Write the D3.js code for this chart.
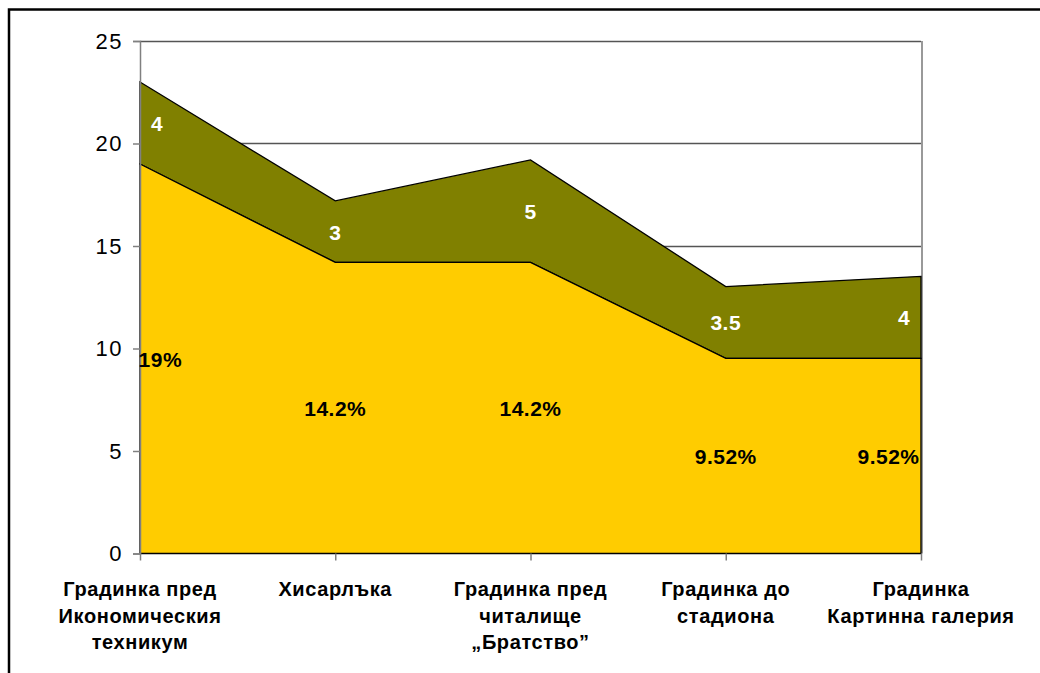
<!DOCTYPE html>
<html>
<head>
<meta charset="utf-8">
<script src="https://cdn.jsdelivr.net/npm/d3@7"></script>
<style>
  body { margin: 0; background: #fff; }
  svg { display: block; font-family: "Liberation Sans", Arial, sans-serif; }
</style>
</head>
<body>
<script>
// data
const categories = [
  ["Градинка пред", "Икономическия", "техникум"],
  ["Хисарлъка"],
  ["Градинка пред", "читалище", "„Братство”"],
  ["Градинка до", "стадиона"],
  ["Градинка", "Картинна галерия"]
]
const lowerValues = [19, 14.2, 14.2, 9.52, 9.52]
const lowerLabels = ["19%", "14.2%", "14.2%", "9.52%", "9.52%"]
const upperValues = [4, 3, 5, 3.5, 4]
const upperLabels = ["4", "3", "5", "3.5", "4"]
const yTicks = [0, 5, 10, 15, 20, 25]

const width = 1040
const height = 673
const margin = ({top: 41, right: 119, bottom: 119.5, left: 140})
const plotW = width - margin.left - margin.right
const plotH = height - margin.top - margin.bottom

const svg = d3.select("body").append("svg")
    .attr("width", width)
    .attr("height", height)

// outer frame (cropped at right/bottom)
svg.append("path")
    .attr("d", `M9,${height} V9.5 H${width}`)
    .attr("fill", "none")
    .attr("stroke", "#000")
    .attr("stroke-width", 2.5)

const idx = categories.map((d, i) => i)
const x = d3.scalePoint()
    .domain(idx)
    .range([0, plotW])

const y = d3.scaleLinear()
    .domain([0, 25])
    .range([plotH, 0])

const g = svg.append("g")
    .attr("transform", `translate(${margin.left},${margin.top})`)

// gridlines
g.append("g")
    .selectAll("line")
    .data(yTicks.filter(d => d > 0))
    .join("line")
    .attr("x1", 0)
    .attr("x2", plotW)
    .attr("y1", d => Math.round(y(d)) + 0.5)
    .attr("y2", d => Math.round(y(d)) + 0.5)
    .attr("stroke", "#555")
    .attr("stroke-width", 1.5)

// right border of plot area
g.append("line")
    .attr("x1", plotW + 1).attr("x2", plotW + 1)
    .attr("y1", 0).attr("y2", plotH)
    .attr("stroke", "#999")
    .attr("stroke-width", 2)

const stacked = idx.map(i => ({i, a: lowerValues[i], b: lowerValues[i] + upperValues[i]}))

const areaLower = d3.area()
    .x(d => x(d.i))
    .y0(y(0))
    .y1(d => y(d.a))

const areaUpper = d3.area()
    .x(d => x(d.i))
    .y0(d => y(d.a))
    .y1(d => y(d.b))

g.append("path")
    .datum(stacked)
    .attr("d", areaUpper)
    .attr("fill", "#808000")
    .attr("stroke", "#000")
    .attr("stroke-width", 1.3)

g.append("path")
    .datum(stacked)
    .attr("d", areaLower)
    .attr("fill", "#FFCC00")
    .attr("stroke", "#000")
    .attr("stroke-width", 1.3)

// y axis
const yAxis = g.append("g")
    .call(d3.axisLeft(y).tickValues(yTicks).tickSize(7).tickPadding(10))
yAxis.select(".domain").attr("stroke", "#808080").attr("stroke-width", 1.5)
yAxis.selectAll(".tick line").attr("stroke", "#808080").attr("stroke-width", 1.5)
yAxis.selectAll(".tick text")
    .attr("font-size", 22)
    .attr("letter-spacing", 1.5)
    .attr("fill", "#000")
    .attr("font-family", "Liberation Sans, Arial, sans-serif")

// x axis ticks
const xAxis = g.append("g")
    .attr("transform", `translate(0,${plotH})`)
    .call(d3.axisBottom(x).tickSize(7).tickFormat(""))
xAxis.select(".domain").remove()
xAxis.selectAll(".tick line").attr("stroke", "#808080").attr("stroke-width", 1.5)

// category labels
const cat = g.append("g")
    .selectAll("text")
    .data(idx)
    .join("text")
    .attr("x", d => x(d))
    .attr("y", plotH + 42.5)
    .attr("text-anchor", "middle")
    .attr("font-size", 20)
    .attr("letter-spacing", 0.6)
    .attr("font-weight", "bold")
    .attr("fill", "#000")
cat.selectAll("tspan")
    .data(d => categories[d])
    .join("tspan")
    .attr("x", function() { return d3.select(this.parentNode).attr("x") })
    .attr("dy", (d, i) => i === 0 ? 0 : 26.5)
    .text(d => d)

// data labels, clamped inside the plot
function labelX(i, w) {
  const cx = x(i)
  return Math.max(w / 2, Math.min(plotW - w / 2, cx))
}

g.append("g")
    .selectAll("text")
    .data(stacked)
    .join("text")
    .attr("x", d => labelX(d.i, lowerLabels[d.i].length * 12.2 + 4))
    .attr("y", d => y(d.a / 2))
    .attr("dy", "0.38em")
    .attr("text-anchor", "middle")
    .attr("font-size", 21)
    .attr("letter-spacing", 0.5)
    .attr("font-weight", "bold")
    .attr("fill", "#000")
    .text(d => lowerLabels[d.i])

g.append("g")
    .selectAll("text")
    .data(stacked)
    .join("text")
    .attr("x", d => labelX(d.i, upperLabels[d.i].length * 12 + 22))
    .attr("y", d => y(d.a + upperValues[d.i] / 2))
    .attr("dy", "0.38em")
    .attr("text-anchor", "middle")
    .attr("font-size", 21)
    .attr("letter-spacing", 0.5)
    .attr("font-weight", "bold")
    .attr("fill", "#fff")
    .text(d => upperLabels[d.i])
</script>
</body>
</html>
